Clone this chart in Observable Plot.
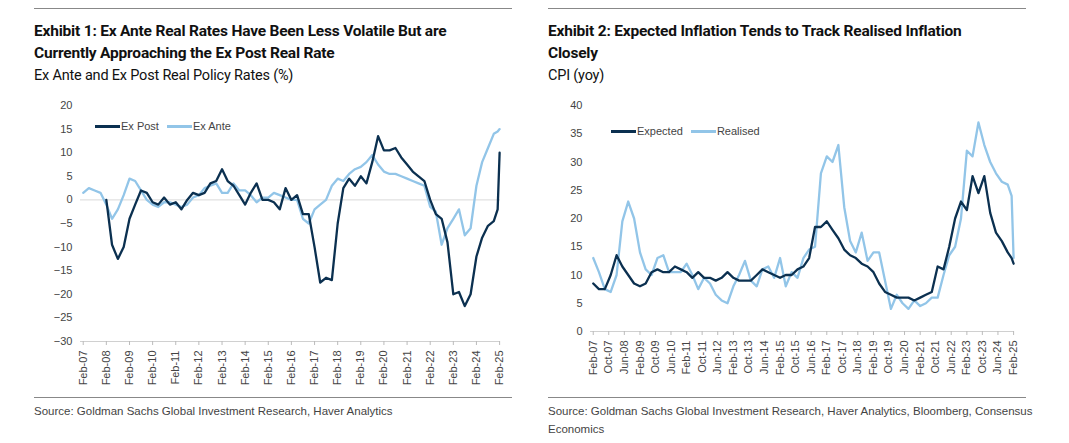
<!DOCTYPE html>
<html><head><meta charset="utf-8">
<script src="https://cdn.jsdelivr.net/npm/d3@7"></script>
<script src="https://cdn.jsdelivr.net/npm/@observablehq/plot@0.6"></script>
<style>
body{margin:0;background:#fff;font-family:"Liberation Sans",Arial,sans-serif;width:1069px;height:443px;position:relative;overflow:hidden}
.panel{position:absolute;top:0;width:478px}
.topline{position:absolute;top:8px;left:0;right:0;border-top:1px solid #888}
.title{position:absolute;top:20px;left:0;font-family:Roboto,sans-serif;font-weight:bold;font-size:15.5px;line-height:22px;color:#111;letter-spacing:-0.2px}
.sub{font-family:Roboto,sans-serif;font-weight:normal;font-size:14.5px}
.chart{position:absolute;top:95px;left:0}
.sep{position:absolute;top:397px;left:0;right:0;border-top:1px solid #888}
.src{position:absolute;top:402px;left:0;width:500px;font-size:11.5px;color:#444;line-height:18px}
.leg{position:absolute;font-size:11px;color:#444;display:flex;align-items:center}
.leg span.sw{display:inline-block;width:25px;height:3px;margin-right:1px}
.leg span.lb{margin-right:8px}
</style></head><body>
<div class="panel" id="p1" style="left:34px">
 <div class="topline"></div>
 <div class="title">Exhibit 1: Ex Ante Real Rates Have Been Less Volatile But are<br>Currently Approaching the Ex Post Real Rate<br><span class="sub">Ex Ante and Ex Post Real Policy Rates (%)</span></div>
 <div class="chart" id="c1"></div>
 <div class="leg" style="left:61px;top:120px"><span class="sw" style="background:#0b3050"></span><span class="lb">Ex Post</span><span class="sw" style="background:#92c5e8"></span><span class="lb">Ex Ante</span></div>
 <div class="sep"></div>
 <div class="src">Source: Goldman Sachs Global Investment Research, Haver Analytics</div>
</div>
<div class="panel" id="p2" style="left:548px">
 <div class="topline"></div>
 <div class="title">Exhibit 2: Expected Inflation Tends to Track Realised Inflation<br>Closely<br><span class="sub">CPI (yoy)</span></div>
 <div class="chart" id="c2"></div>
 <div class="leg" style="left:63px;top:125px"><span class="sw" style="background:#0b3050"></span><span class="lb">Expected</span><span class="sw" style="background:#92c5e8"></span><span class="lb">Realised</span></div>
 <div class="sep"></div>
 <div class="src">Source: Goldman Sachs Global Investment Research, Haver Analytics, Bloomberg, Consensus<br>Economics</div>
</div>
<script>
const dark="#0b3050", light="#92c5e8";
// Quarterly observations (Feb, May, Aug, Nov) from Feb-07, then final Jan-25 and Feb-25
const exAnte=[1.5,2.5,2,1.5, -1,-4,-2,1, 4.5,4,2,0, -1,-1.5,-0.5,-0.5, -1,-1.5,-1,0.5, 1,2.5,3,3.5, 1.5,1.5,3.5,2, 2,1,-0.5,0.5, 0.5,1.5,1,0.5, 0,0,-4,-5, -2,-1,0,3, 4.5,4,5.5,6.5, 7,8,9.5,7.5, 6,5.5,5.5,5, 4.5,4,3.5,3, -1.5,-2.5,-9.5,-6, -4,-2,-7.5,-6, 3,8,11,14, 14.5,15];
const exPost=[null,null,null,null, 0,-9.5,-12.5,-10, -4,-1,2,1.5, -0.5,-1,0.5,-1, -0.5,-2,0,1.5, 1,1.5,3.5,4, 6.5,4,3,1, -1,1.5,3.5,0, 0,-0.5,-2,2.5, 0,1,-3,-3, -10,-17.5,-16.5,-17, -5,2.5,4.5,3, 5,3.5,8,13.5, 10.5,10.5,11,9, 7.5,6,5,4, 0,-3,-4,-9, -20,-19.5,-22.5,-20, -12,-8,-5.5,-4.5, -2,10];
const expected=[8.5,7.5,7.5,10, 13.5,11.5,10,8.5, 8,8.5,10.5,11, 10.5,10.5,11.5,11, 10.5,9.5,10.5,9.5, 9.5,9,9.5,10.5, 9.5,9,9,9, 10,11,10.5,10, 9.5,10,10,11, 11.5,13,18.5,18.5, 19.5,18,16.5,14.5, 13.5,13,12,11.5, 10.5,8.5,7,6.5, 6,6,6,5.5, 6,6.5,7,11.5, 11,15,20,23, 21.5,27.5,24.5,27.5, 21,17.5,16,14, 13,12];
const realised=[13,10.5,7.5,7, 10,19.5,23,20, 14,11,10,13, 13.5,10.5,10.5,10.5, 12,10,7.5,9.5, 8.5,6.5,5.5,5, 8,10,12.5,9, 8,11,11.5,9.5, 13,8,10.5,9.5, 13,14.5,15,28, 31,30,33,22, 16,14,17.5,12.5, 14,14,9,4, 6.5,5,4,5.5, 4.5,5,6,6, 10,13.5,15,20, 32,31,37,33, 30,28,26.5,26, 24,13];
const t0=new Date(2007,1,1);
const dates=exAnte.map((_,i)=> i<72 ? d3.timeMonth.offset(t0,3*i) : (i===72?new Date(2025,0,1):new Date(2025,1,1)));
const leftTicks=d3.range(2007,2026).map(y=>new Date(y,1,1));
const rightTicks=d3.range(0,28).map(k=>d3.timeMonth.offset(t0,8*k)).filter(d=>d<=new Date(2025,1,2));
const rows=(a)=>a.map((v,i)=>({d:dates[i],v})).filter(r=>r.v!=null);
const fmt=d3.timeFormat("%b-%y");
function chart(opts){
 return Plot.plot({
  width:478,height:300,marginLeft:opts.ml,marginRight:12,marginTop:10,marginBottom:opts.mb,
  style:{fontFamily:"Liberation Sans, Arial",fontSize:"11px",color:"#444"},
  x:{type:"utc",domain:[new Date(2006,11,20),new Date(2025,1,15)],ticks:opts.ticks,tickFormat:fmt,tickRotate:-90,tickSize:4,label:null},
  y:{domain:opts.y,ticks:opts.yt,tickSize:0,label:null,tickPadding:8},
  marks:[
   opts.zero?Plot.ruleY([0],{stroke:"#d9d9d9"}):null,
   Plot.ruleY([opts.y[0]],{stroke:"#d0d0d0"}),
   Plot.axisX({ticks:opts.ticks,tickFormat:fmt,tickRotate:-90,tickSize:4,stroke:"#bbb",fontSize:11,anchor:"bottom",y:opts.y[0]}),
   Plot.lineY(rows(opts.b),{x:"d",y:"v",stroke:light,strokeWidth:2.3,curve:"linear"}),
   Plot.lineY(rows(opts.a),{x:"d",y:"v",stroke:dark,strokeWidth:2.3,curve:"linear"})
  ].filter(Boolean)
 });
}
document.getElementById("c1").append(chart({ml:46,mb:54,ticks:leftTicks,y:[-30,20],yt:d3.range(-30,21,5),zero:true,a:exPost,b:exAnte}));
document.getElementById("c2").append(chart({ml:42,mb:64,ticks:rightTicks,y:[0,40],yt:d3.range(0,41,5),zero:false,a:expected,b:realised}));
</script>
</body></html>
